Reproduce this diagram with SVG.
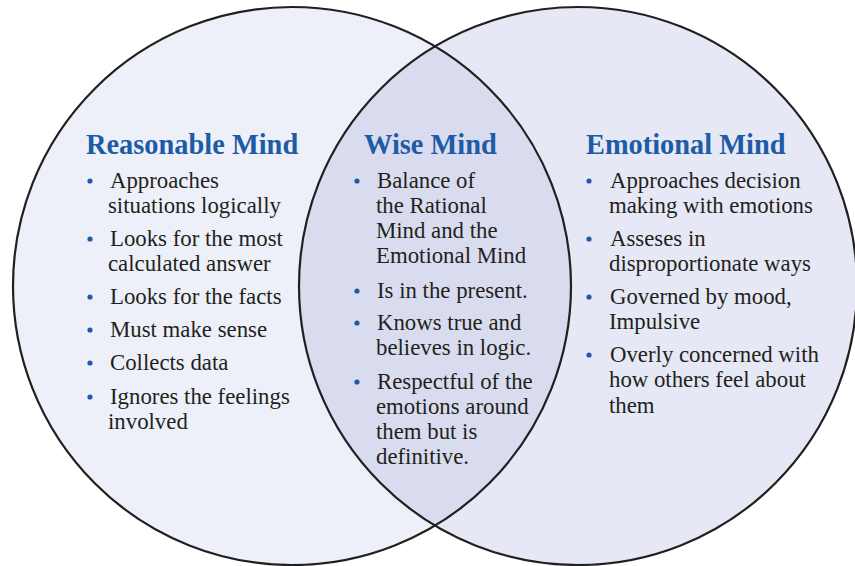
<svg xmlns="http://www.w3.org/2000/svg" width="855" height="566" viewBox="0 0 855 566">
<style>
.title{font-family:"Liberation Serif","Times New Roman",serif;font-weight:bold;font-size:28.4px;fill:#1d5ba6}
.t{font-family:"Liberation Serif","Times New Roman",serif;font-size:22.8px;fill:#231f20}
.b{fill:#1d5ba6}
.ring{fill:none;stroke:#231f20;stroke-width:2.2}
</style>
<rect width="855" height="566" fill="#ffffff"/>
<g id="reasonable-circle">
<circle cx="292" cy="286" r="279" fill="#edf0f8"/>
</g>
<g id="emotional-circle">
<circle cx="578" cy="286" r="279" fill="#e6e8f5"/>
</g>
<g id="wise-lens">
<path d="M435,46.4 A279,279 0 0 1 435,525.6 A279,279 0 0 1 435,46.4 Z" fill="#d9dcee"/>
</g>
<g id="outlines">
<circle class="ring" cx="292" cy="286" r="279"/>
<circle class="ring" cx="578" cy="286" r="279"/>
</g>
<g id="reasonable-mind">
<text class="title" x="86" y="154">Reasonable Mind</text>
<circle class="b" cx="90" cy="181" r="2.6"/>
<text class="t" x="110" y="188">Approaches</text>
<text class="t" x="108" y="213">situations logically</text>
<circle class="b" cx="90" cy="239" r="2.6"/>
<text class="t" x="110" y="246">Looks for the most</text>
<text class="t" x="108" y="271">calculated answer</text>
<circle class="b" cx="90" cy="297" r="2.6"/>
<text class="t" x="110" y="304">Looks for the facts</text>
<circle class="b" cx="90" cy="330" r="2.6"/>
<text class="t" x="110" y="337">Must make sense</text>
<circle class="b" cx="90" cy="363" r="2.6"/>
<text class="t" x="110" y="370">Collects data</text>
<circle class="b" cx="90" cy="397" r="2.6"/>
<text class="t" x="110" y="404">Ignores the feelings</text>
<text class="t" x="108" y="429">involved</text>
</g>
<g id="wise-mind">
<text class="title" x="364" y="154">Wise Mind</text>
<circle class="b" cx="357" cy="181" r="2.6"/>
<text class="t" x="377" y="188">Balance of</text>
<text class="t" x="376" y="213">the Rational</text>
<text class="t" x="376" y="238">Mind and the</text>
<text class="t" x="376" y="263">Emotional Mind</text>
<circle class="b" cx="357" cy="291" r="2.6"/>
<text class="t" x="377" y="298">Is in the present.</text>
<circle class="b" cx="357" cy="323" r="2.6"/>
<text class="t" x="377" y="330">Knows true and</text>
<text class="t" x="376" y="355">believes in logic.</text>
<circle class="b" cx="357" cy="382" r="2.6"/>
<text class="t" x="377" y="389">Respectful of the</text>
<text class="t" x="376" y="414">emotions around</text>
<text class="t" x="376" y="439">them but is</text>
<text class="t" x="376" y="464">definitive.</text>
</g>
<g id="emotional-mind">
<text class="title" x="586" y="154">Emotional Mind</text>
<circle class="b" cx="589" cy="181" r="2.6"/>
<text class="t" x="610" y="188">Approaches decision</text>
<text class="t" x="609" y="213">making with emotions</text>
<circle class="b" cx="589" cy="239" r="2.6"/>
<text class="t" x="610" y="246">Asseses in</text>
<text class="t" x="609" y="271">disproportionate ways</text>
<circle class="b" cx="589" cy="297" r="2.6"/>
<text class="t" x="610" y="304">Governed by mood,</text>
<text class="t" x="609" y="329">Impulsive</text>
<circle class="b" cx="589" cy="355" r="2.6"/>
<text class="t" x="610" y="362">Overly concerned with</text>
<text class="t" x="609" y="387">how others feel about</text>
<text class="t" x="609" y="413">them</text>
</g>
</svg>
